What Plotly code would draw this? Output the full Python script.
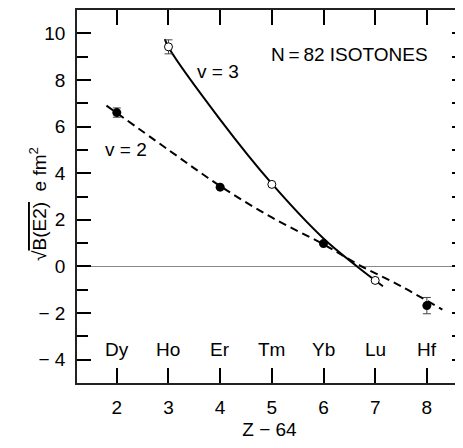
import plotly.graph_objects as go

# Data points (Z-64, sqrt(B(E2)))
elements = ["Dy", "Ho", "Er", "Tm", "Yb", "Lu", "Hf"]
element_x = [2, 3, 4, 5, 6, 7, 8]

v2_x = [2, 4, 6, 8]
v2_y = [6.6, 3.4, 0.98, -1.68]
v2_err = [0.2, 0.0, 0.0, 0.35]

v3_x = [3, 5, 7]
v3_y = [9.42, 3.52, -0.6]
v3_err = [0.3, 0.0, 0.0]

# Calculated curves
curve_v2_x = [1.8, 3, 4, 5, 6, 6.7, 7.5, 8.3]
curve_v2_y = [6.9, 5.0, 3.45, 2.1, 0.95, 0.05, -0.85, -1.85]
curve_v3_x = [2.93, 3, 4, 5, 6, 6.65, 7.15]
curve_v3_y = [9.75, 9.4, 6.3, 3.55, 1.2, 0.0, -0.85]

y_ticks = [-4, -2, 0, 2, 4, 6, 8, 10]
y_ticklabels = ["\u2212 4", "\u2212 2", "0", "2", "4", "6", "8", "10"]
y_minor_ticks = list(range(-4, 11))
x_ticks = [2, 3, 4, 5, 6, 7, 8]

FONT = "Liberation Sans, Arial, sans-serif"
FS = 19
TICKC = "black"

fig = go.Figure()

fig.add_trace(go.Scatter(x=curve_v2_x, y=curve_v2_y, mode="lines",
                         line=dict(color="black", width=2, dash="8px,5px", shape="spline"),
                         showlegend=False, hoverinfo="skip"))
fig.add_trace(go.Scatter(x=curve_v3_x, y=curve_v3_y, mode="lines",
                         line=dict(color="black", width=2, shape="spline"),
                         showlegend=False, hoverinfo="skip"))

fig.add_trace(go.Scatter(x=v2_x, y=v2_y, mode="markers",
                         marker=dict(color="black", size=9, symbol="circle"),
                         error_y=dict(type="data", array=v2_err, color="#444", thickness=1, width=4),
                         showlegend=False))
fig.add_trace(go.Scatter(x=v3_x, y=v3_y, mode="markers",
                         marker=dict(color="white", size=8, symbol="circle",
                                     line=dict(color="black", width=1)),
                         error_y=dict(type="data", array=v3_err, color="#444", thickness=1, width=4),
                         showlegend=False))

# Invisible trace on the right-hand axis so its inside ticks are drawn (no spine)
fig.add_trace(go.Scatter(x=v2_x, y=v2_y, yaxis="y2", mode="markers",
                         marker=dict(opacity=0), showlegend=False, hoverinfo="skip"))

for name, xv in zip(elements, element_x):
    fig.add_annotation(x=xv, y=-3.57, text=name, showarrow=False,
                       font=dict(size=FS, color="black", family=FONT))

fig.add_annotation(x=6.5, y=9.1, text="N\u2009=\u200982 ISOTONES", showarrow=False,
                   font=dict(size=FS, color="black", family=FONT))
fig.add_annotation(x=3.96, y=8.37, text="v = 3", showarrow=False,
                   font=dict(size=FS, color="black", family=FONT))
fig.add_annotation(x=2.17, y=5.02, text="v = 2", showarrow=False,
                   font=dict(size=FS, color="black", family=FONT))

fig.add_annotation(xref="paper", yref="paper", x=0, y=0.48, xshift=-53, textangle=-90,
                   text="\u221a<span style='text-decoration:overline'>B(E2)</span>  e fm<sup>2</sup>",
                   showarrow=False, font=dict(size=FS, color="black", family=FONT))

fig.update_layout(
    width=455, height=440,
    margin=dict(l=69, r=1, t=2, b=65),
    paper_bgcolor="white", plot_bgcolor="white",
    font=dict(family=FONT, size=FS, color="black"),
    xaxis=dict(range=[1.23, 8.68], tickvals=x_ticks, ticks="inside", ticklen=15,
               tickcolor=TICKC, tickwidth=1.5, showline=True, linecolor="#222", linewidth=1.5,
               mirror="ticks", showgrid=False, zeroline=False,
               title=dict(text="Z \u2212 64", font=dict(size=FS), standoff=6),
               ticklabelstandoff=6),
    yaxis=dict(range=[-5, 11], tickvals=y_ticks, ticktext=y_ticklabels, ticks="inside",
               ticklen=14, tickcolor=TICKC, tickwidth=1.5, showline=True, linecolor="#222",
               linewidth=1.5, showgrid=False, zeroline=True, zerolinecolor="#888",
               zerolinewidth=1, ticklabelstandoff=6,
               minor=dict(dtick=1, tick0=0, ticks="inside", ticklen=11, tickcolor=TICKC,
                          tickwidth=1.5)),
    yaxis2=dict(range=[-5, 11], overlaying="y", side="right", showline=False, visible=True,
                tickvals=y_minor_ticks, ticks="inside", ticklen=10, tickcolor=TICKC,
                tickwidth=1.5, showticklabels=False, showgrid=False, zeroline=False),
)

fig.write_html("out.html")
